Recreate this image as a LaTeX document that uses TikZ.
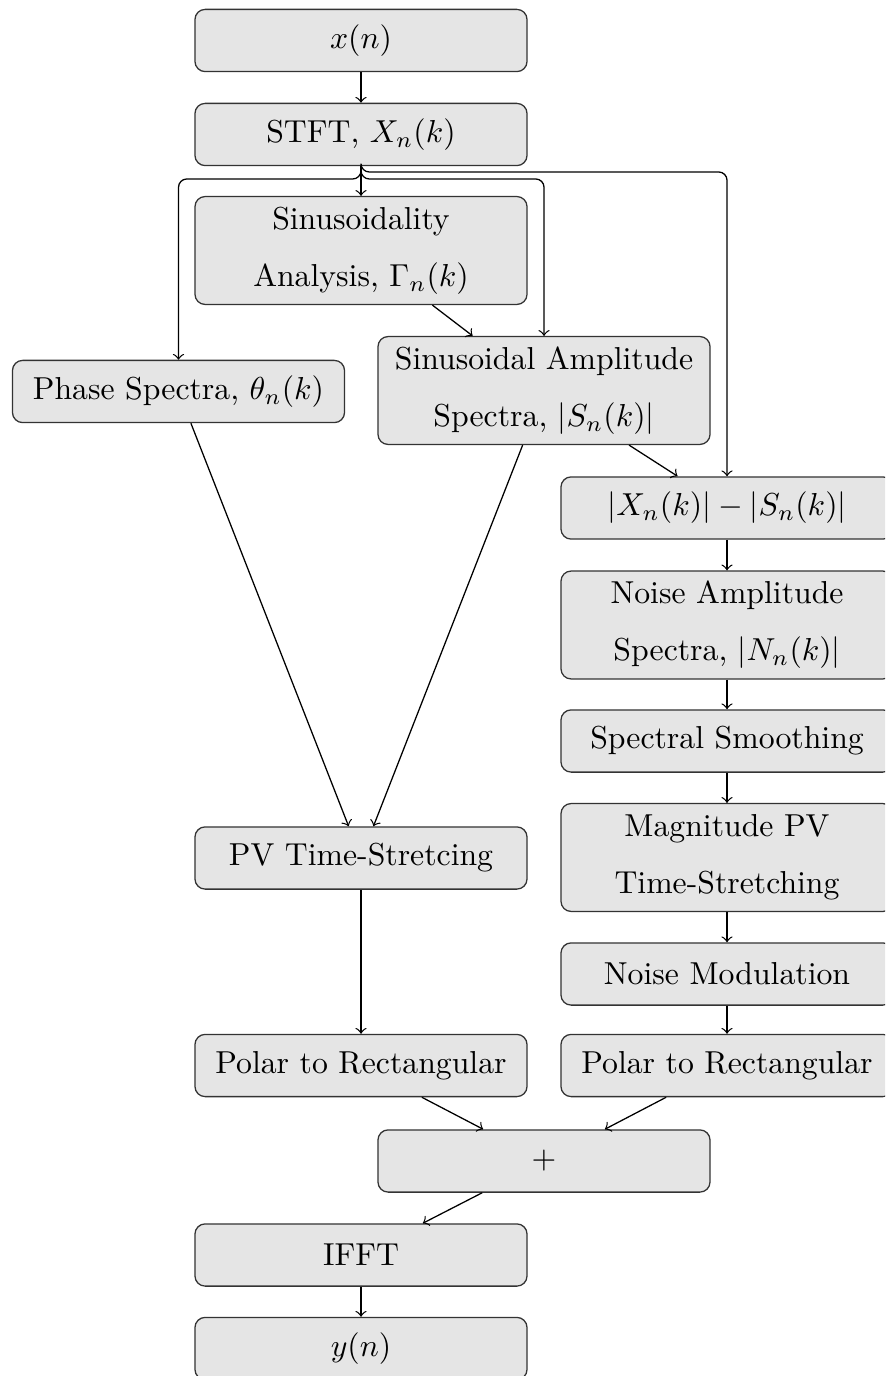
\documentclass[tikz,border=0pt]{standalone}
\usetikzlibrary{calc}
\begin{document}
\begin{tikzpicture}[x=0.315pt,y=-0.315pt,
  blk/.style={draw=black!80, fill=gray!20, rounded corners=3.2pt, line width=0.4pt,
    minimum width=104.6pt, minimum height=19.6pt, align=center, inner sep=3pt,
    font={\fontsize{10}{18}\selectfont}},
  blk2/.style={blk, minimum height=34pt},
  arr/.style={->, black, line width=0.4pt},
  brn/.style={arr, rounded corners=2.6pt}]
\useasboundingbox (0,0) rectangle (885,1376);
\clip (0,0) rectangle (885,1376);
% left/centre column
\node[blk]  (xn)    at (361,40.5)  {$x(n)$};
\node[blk]  (stft)  at (361,134.5) {STFT, $X_n(k)$};
\node[blk2] (sinan) at (361,250.5) {Sinusoidality\\Analysis, $\Gamma_n(k)$};
\node[blk]  (phase) at (178.5,391.5) {Phase Spectra, $\theta_n(k)$};
\node[blk2] (sinamp) at (544,390.5) {Sinusoidal Amplitude\\Spectra, $|S_n(k)|$};
\node[blk]  (pvts)  at (361,858) {PV Time-Stretcing};
\node[blk]  (polL)  at (361,1065.5) {Polar to Rectangular};
\node[blk]  (plus)  at (544,1161) {$+$};
\node[blk]  (ifft)  at (361,1255) {IFFT};
\node[blk]  (yn)    at (361,1348.5) {$y(n)$};
% right column
\node[blk]  (diff)  at (727,508) {$|X_n(k)|-|S_n(k)|$};
\node[blk2] (noise) at (727,625) {Noise Amplitude\\Spectra, $|N_n(k)|$};
\node[blk]  (smooth) at (727,741) {Spectral Smoothing};
\node[blk2] (magpv) at (727,857.5) {Magnitude PV\\Time-Stretching};
\node[blk]  (nmod)  at (727,974) {Noise Modulation};
\node[blk]  (polR)  at (727,1065.5) {Polar to Rectangular};
% branch levels
\coordinate (jA) at (0,179);
\coordinate (jB) at (0,172);
% connectors
\draw[arr] (xn) -- (stft);
\draw[arr] (stft) -- (sinan);
\draw[brn] (stft.south) |- (phase.north |- jA) -- (phase.north);
\draw[brn] (stft.south) |- (sinamp.north |- jA) -- (sinamp.north);
\draw[brn] (stft.south) |- (diff.north |- jB) -- (diff.north);
\draw[arr] (sinan) -- (sinamp);
\draw[arr] (sinamp) -- (diff);
\draw[arr] (phase) -- (pvts);
\draw[arr] (sinamp) -- (pvts);
\draw[arr] (diff) -- (noise);
\draw[arr] (noise) -- (smooth);
\draw[arr] (smooth) -- (magpv);
\draw[arr] (magpv) -- (nmod);
\draw[arr] (nmod) -- (polR);
\draw[arr] (pvts) -- (polL);
\draw[arr] (polL) -- (plus);
\draw[arr] (polR) -- (plus);
\draw[arr] (plus) -- (ifft);
\draw[arr] (ifft) -- (yn);
\end{tikzpicture}
\end{document}
